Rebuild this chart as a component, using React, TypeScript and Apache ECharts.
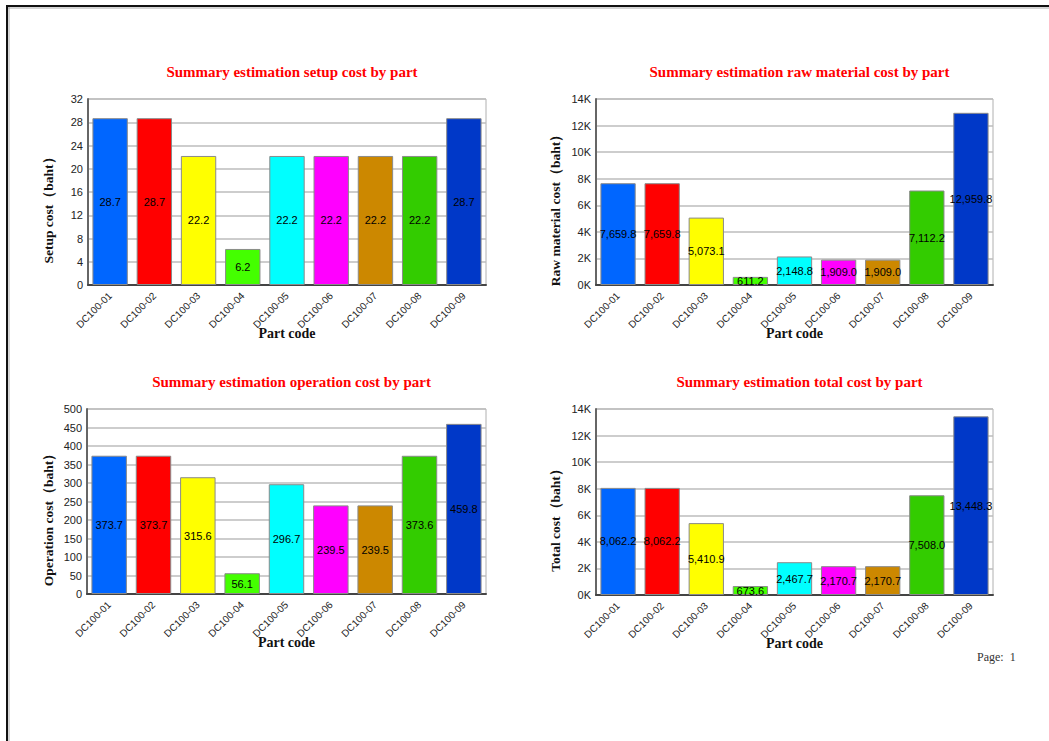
import React, { useEffect, useRef } from "react";
import * as echarts from "echarts";

const categories = ["DC100-01", "DC100-02", "DC100-03", "DC100-04", "DC100-05", "DC100-06", "DC100-07", "DC100-08", "DC100-09"];
const barColors = ["#0066ff", "#ff0000", "#ffff00", "#44ff00", "#00ffff", "#ff00ff", "#cc8800", "#33cc00", "#0038c8"];

const setupCost = [28.7, 28.7, 22.2, 6.2, 22.2, 22.2, 22.2, 22.2, 28.7];
const rawMaterialCost = [7659.8, 7659.8, 5073.1, 611.2, 2148.8, 1909.0, 1909.0, 7112.2, 12959.8];
const operationCost = [373.7, 373.7, 315.6, 56.1, 296.7, 239.5, 239.5, 373.6, 459.8];
const totalCost = [8062.2, 8062.2, 5410.9, 673.6, 2467.7, 2170.7, 2170.7, 7508.0, 13448.3];

const titles = [
  "Summary estimation setup cost by part",
  "Summary estimation raw material cost by part",
  "Summary estimation operation cost by part",
  "Summary estimation total cost by part",
];
const yNames = ["Setup cost（baht）", "Raw material cost（baht）", "Operation cost（baht）", "Total cost（baht）"];
const xName = "Part code";
const pageLabel = "Page:  1";

const yMax = [32, 14000, 500, 14000];
const yInterval = [4, 2000, 50, 2000];

const grids = [
  { left: 88, top: 99, width: 398, height: 186 },
  { left: 596, top: 99, width: 397, height: 186 },
  { left: 87, top: 409, width: 399, height: 185 },
  { left: 596, top: 409, width: 397, height: 186 },
];

const serif = "'Liberation Serif', 'Times New Roman', serif";
const sans = "'Liberation Sans', Arial, sans-serif";

const fmtK = (v: number) => v / 1000 + "K";
const fmt1 = (v: number) => v.toFixed(1);
const fmtThousands = (v: number) =>
  v.toLocaleString("en-US", { minimumFractionDigits: 1, maximumFractionDigits: 1 });

export default function App() {
  const ref = useRef<HTMLDivElement>(null);
  useEffect(() => {
    document.body.style.margin = "0";
    const chart = echarts.init(ref.current!, null, { renderer: "svg" });
    const datasets = [setupCost, rawMaterialCost, operationCost, totalCost];
    const yLabelFmts = [(v: number) => String(v), fmtK, (v: number) => String(v), fmtK];
    const barLabelFmts = [fmt1, fmtThousands, fmt1, fmtThousands];

    const option: any = {
      animation: false,
      backgroundColor: "#ffffff",
      title: grids.map((g, i) => ({
        text: titles[i],
        left: g.left + g.width / 2,
        top: g.top - 40,
        textAlign: "center",
        textStyle: { fontFamily: serif, fontWeight: "bold", fontSize: 15, color: "#ff0000" },
      })),
      grid: grids.map((g) => ({
        ...g,
        show: true,
        borderColor: "#b0b0b0",
        borderWidth: 1,
        backgroundColor: "transparent",
      })),
      xAxis: grids.map((_, i) => ({
        type: "category",
        gridIndex: i,
        data: categories,
        name: xName,
        nameLocation: "middle",
        nameGap: 41,
        nameMoveOverlap: false,
        nameTextStyle: { fontFamily: serif, fontWeight: "bold", fontSize: 14, color: "#111" },
        axisLine: { show: true, lineStyle: { color: "#444", width: 2 } },
        axisTick: { show: false },
        axisLabel: { rotate: 45, fontFamily: sans, fontSize: 10, color: "#222", margin: 9, interval: 0 },
      })),
      yAxis: grids.map((_, i) => ({
        type: "value",
        gridIndex: i,
        min: 0,
        max: yMax[i],
        interval: yInterval[i],
        axisLine: { show: true, lineStyle: { color: "#666", width: 2 } },
        axisTick: { show: false },
        axisLabel: { fontFamily: sans, fontSize: 11, color: "#222", margin: 5, formatter: yLabelFmts[i] },
        splitLine: { show: true, lineStyle: { color: "#bcbcbc", width: 1.5 } },
      })),
      series: datasets.map((d, i) => ({
        type: "bar",
        xAxisIndex: i,
        yAxisIndex: i,
        barCategoryGap: "20%",
        data: d.map((v, j) => ({ value: v, itemStyle: { color: barColors[j] } })),
        itemStyle: { borderColor: "#8a8a8a", borderWidth: 1 },
        label: {
          show: true,
          position: "inside",
          fontFamily: sans,
          fontSize: 11,
          color: "#000",
          formatter: (p: any) => barLabelFmts[i](p.value),
        },
      })),
      graphic: [
        { type: "line", shape: { x1: 6, y1: 8, x2: 1049, y2: 8 }, style: { stroke: "#aaa", lineWidth: 1 } },
        { type: "line", shape: { x1: 9, y1: 6, x2: 9, y2: 741 }, style: { stroke: "#aaa", lineWidth: 1 } },
        { type: "line", shape: { x1: 6, y1: 6, x2: 1049, y2: 6 }, style: { stroke: "#111", lineWidth: 2 } },
        { type: "line", shape: { x1: 7, y1: 5, x2: 7, y2: 741 }, style: { stroke: "#111", lineWidth: 2 } },
        ...grids.map((g, i) => ({
          type: "text",
          x: i % 2 === 0 ? 48 : 555,
          y: g.top + g.height / 2 + 15,
          rotation: Math.PI / 2,
          style: {
            text: yNames[i],
            fontFamily: serif,
            fontWeight: "bold",
            fontSize: 13.5,
            fill: "#111",
            align: "center",
            verticalAlign: "middle",
          },
        })),
        {
          type: "text",
          x: 977,
          y: 657,
          style: { text: pageLabel, fontFamily: serif, fontSize: 12, fill: "#333", verticalAlign: "middle" },
        },
      ],
    };
    chart.setOption(option);
    return () => chart.dispose();
  }, []);
  return <div ref={ref} style={{ width: 1049, height: 741 }} />;
}
